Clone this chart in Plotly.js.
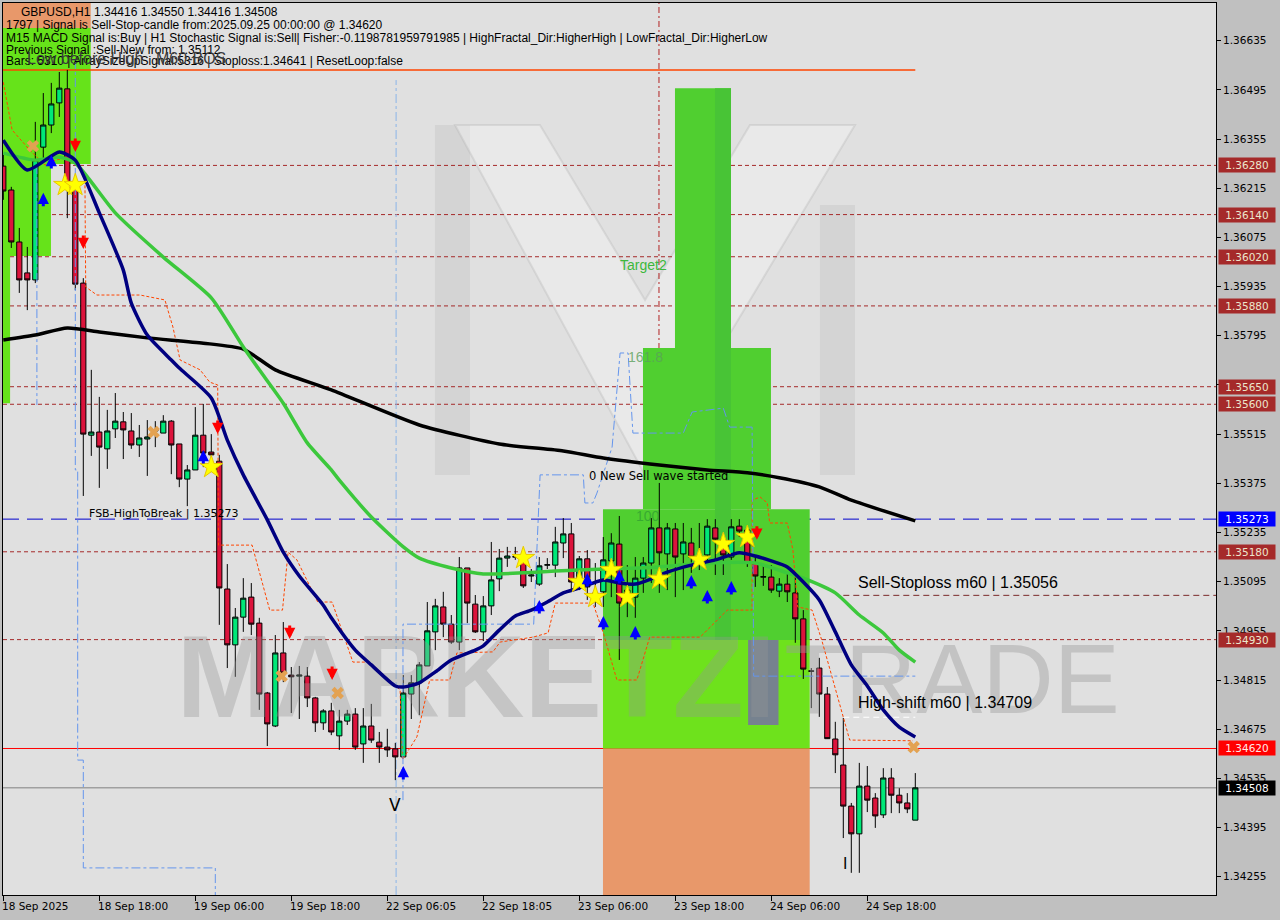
<!DOCTYPE html>
<html>
<head>
<meta charset="utf-8">
<script src="https://cdn.plot.ly/plotly-3.0.1.min.js"></script>
<style>
html,body{margin:0;padding:0;background:#c0c0c0;}
#chart{width:1280px;height:920px;}
</style>
</head>
<body>
<div id="chart"></div>
<script>
// ---------------- DATA ----------------
const openP = [1.36278,1.36210,1.36062,1.35974,1.35954,1.36332,1.36395,1.36458,1.36498,1.36210,
1.35945,1.35512,1.35521,1.35473,1.35530,1.35550,1.35524,1.35484,1.35501,1.35524,
1.35518,1.35552,1.35487,1.35387,1.35413,1.35512,1.35464,1.35438,1.35074,1.34915,
1.34994,1.35051,1.34977,1.34778,1.34684,1.34892,1.34829,1.34826,1.34826,1.34764,
1.34693,1.34727,1.34656,1.34698,1.34718,1.34633,1.34684,1.34638,1.34624,1.34619,
1.34596,1.34775,1.34807,1.34855,1.34952,1.35023,1.34974,1.34923,1.35134,1.35031,
1.34952,1.35026,1.35103,1.35162,1.35165,1.35151,1.35111,1.35088,1.35142,1.35142,
1.35205,1.35231,1.35091,1.35160,1.35063,1.35066,1.35154,1.35202,1.35048,1.35051,
1.35105,1.35148,1.35248,1.35174,1.35245,1.35174,1.35205,1.35151,1.35171,1.35248,
1.35214,1.35165,1.35253,1.35242,1.35148,1.35108,1.35108,1.35068,1.35088,1.35063,
1.34989,1.34841,1.34849,1.34775,1.34647,1.34573,1.34456,1.34377,1.34513,1.34479,
1.34431,1.34536,1.34487,1.34465,1.34416];
const highP = [1.36310,1.36219,1.36102,1.36048,1.36404,1.36486,1.36515,1.36546,1.36552,1.36224,
1.35959,1.35698,1.35621,1.35584,1.35632,1.35578,1.35575,1.35541,1.35555,1.35552,
1.35569,1.35555,1.35487,1.35427,1.35592,1.35601,1.35515,1.35456,1.35145,1.35020,
1.35105,1.35091,1.34992,1.34781,1.34943,1.34980,1.34852,1.34855,1.34852,1.34767,
1.34732,1.34750,1.34730,1.34730,1.34735,1.34735,1.34747,1.34667,1.34676,1.34636,
1.34829,1.34829,1.34866,1.35037,1.35046,1.35066,1.35000,1.35165,1.35134,1.35057,
1.35054,1.35208,1.35188,1.35194,1.35194,1.35177,1.35131,1.35165,1.35162,1.35251,
1.35276,1.35262,1.35168,1.35185,1.35148,1.35222,1.35233,1.35282,1.35142,1.35165,
1.35165,1.35276,1.35376,1.35262,1.35262,1.35262,1.35248,1.35262,1.35273,1.35273,
1.35222,1.35273,1.35273,1.35248,1.35165,1.35142,1.35142,1.35105,1.35122,1.35122,
1.35014,1.34849,1.34878,1.34795,1.34696,1.34707,1.34465,1.34579,1.34570,1.34493,
1.34564,1.34564,1.34507,1.34493,1.34550];
const lowP = [1.36182,1.36045,1.35917,1.35868,1.35945,1.36295,1.36372,1.36418,1.36130,1.35925,
1.35339,1.35453,1.35362,1.35416,1.35504,1.35444,1.35473,1.35450,1.35396,1.35478,
1.35518,1.35401,1.35364,1.35310,1.35413,1.35421,1.35407,1.34972,1.34849,1.34824,
1.34952,1.34943,1.34730,1.34627,1.34681,1.34809,1.34721,1.34704,1.34738,1.34667,
1.34673,1.34658,1.34616,1.34687,1.34616,1.34579,1.34636,1.34579,1.34596,1.34530,
1.34596,1.34704,1.34715,1.34855,1.34900,1.34937,1.34918,1.34900,1.34977,1.34949,
1.34926,1.35000,1.35068,1.35137,1.35157,1.35077,1.35094,1.35083,1.35131,1.35108,
1.35162,1.35071,1.35071,1.35043,1.35023,1.35023,1.35051,1.34872,1.34994,1.34992,
1.35063,1.35091,1.35063,1.35071,1.35051,1.35071,1.35120,1.35128,1.35148,1.35114,
1.35114,1.35157,1.35222,1.35137,1.35080,1.35083,1.35063,1.35051,1.35037,1.34921,
1.34818,1.34735,1.34710,1.34647,1.34550,1.34365,1.34266,1.34266,1.34439,1.34394,
1.34422,1.34436,1.34436,1.34436,1.34416];
const closeP = [1.36207,1.36062,1.35954,1.35954,1.36295,1.36395,1.36455,1.36500,1.36224,1.35942,
1.35515,1.35521,1.35478,1.35524,1.35552,1.35527,1.35484,1.35504,1.35507,1.35527,
1.35552,1.35484,1.35387,1.35413,1.35512,1.35461,1.35456,1.35077,1.34915,1.34994,
1.35048,1.34974,1.34775,1.34690,1.34892,1.34835,1.34824,1.34829,1.34764,1.34693,
1.34727,1.34667,1.34698,1.34718,1.34624,1.34684,1.34644,1.34624,1.34616,1.34596,
1.34778,1.34807,1.34858,1.34955,1.35026,1.34974,1.34923,1.35134,1.35034,1.34952,
1.35026,1.35100,1.35162,1.35168,1.35166,1.35083,1.35114,1.35140,1.35143,1.35208,
1.35231,1.35094,1.35160,1.35080,1.35048,1.35157,1.35205,1.35034,1.35071,1.35105,
1.35148,1.35248,1.35177,1.35248,1.35165,1.35208,1.35165,1.35165,1.35253,1.35216,
1.35171,1.35251,1.35239,1.35148,1.35111,1.35109,1.35071,1.35088,1.35066,1.34989,
1.34846,1.34840,1.34775,1.34648,1.34602,1.34456,1.34377,1.34513,1.34473,1.34428,
1.34536,1.34487,1.34465,1.34448,1.34508];

const tickBars = [0,12,24,36,48,60,72,84,96,108];
const tickLabels = ['18 Sep 2025','18 Sep 18:00','19 Sep 06:00','19 Sep 18:00','22 Sep 06:05','22 Sep 18:05','23 Sep 06:00','23 Sep 18:00','24 Sep 06:00','24 Sep 18:00'];
const priceTicks = [1.36635,1.36495,1.36355,1.36215,1.36075,1.35935,1.35795,1.35655,1.35515,1.35375,1.35235,1.35095,1.34955,1.34815,1.34675,1.34535,1.34395,1.34255];

// moving averages (read at sample bars)
const maFastBar = [0,3,7,9,12,15,16,18,21,22,26,28,30,33,35,37,40,41,44,46,49,50,52,54,56,59,60,62,64,66,68,70,72,75,77,79,81,83,86,89,92,94,96,98,100,102,104,106,108,110,112,114];
const maFast = [1.36352,1.36267,1.36318,1.36295,1.36145,1.35982,1.35888,1.35797,1.35726,1.35703,1.35618,1.35498,1.35399,1.35271,1.35179,1.35111,1.35028,1.34992,1.34900,1.34858,1.34798,1.34795,1.34807,1.34838,1.34872,1.34900,1.34912,1.34957,1.34997,1.35014,1.35037,1.35063,1.35077,1.35100,1.35091,1.35088,1.35103,1.35122,1.35142,1.35157,1.35177,1.35168,1.35154,1.35137,1.35094,1.35043,1.34952,1.34858,1.34798,1.34730,1.34681,1.34653];
const maMidBar = [0,4,7,9,14,20,26,30,32,35,38,41,42,46,50,52,56,60,65,69,72,82,88,94,98,100,104,107,110,112,114];
const maMid = [1.36315,1.36295,1.36304,1.36287,1.36145,1.36019,1.35903,1.35763,1.35698,1.35603,1.35490,1.35413,1.35384,1.35279,1.35194,1.35162,1.35134,1.35117,1.35120,1.35125,1.35128,1.35137,1.35148,1.35148,1.35120,1.35105,1.35063,1.35000,1.34949,1.34900,1.34866];
const maSlowBar = [0,4,8,12,18,25,30,34,41,52,62,70,75,82,88,93,97,102,106,114];
const maSlow = [1.35783,1.35797,1.35817,1.35806,1.35789,1.35774,1.35757,1.35698,1.35641,1.35541,1.35487,1.35467,1.35447,1.35427,1.35413,1.35405,1.35391,1.35365,1.35327,1.35268];

// stepped trailing line (orange dashed)
const trailBar = [0,1.1,3.3,5.2,6.5,7.7,9.2,10.2,10.3,11.7,17.1,20.2,21.2,22.1,24.6,25.8,26.8,26.9,31.1,32.3,33.3,34.9,35.6,36.7,39.3,41.1,43.7,45.8,48.7,49.6,49.9,51.7,53.3,55.8,56.7,61.2,62.1,66.2,68.1,69,73.7,75,76.7,79.2,80.8,87.1,90.5,93.6,93.6,94.6,95.5,95.8,98,98.7,99.3,101.1,102.3,105,105.8,113.7];
const trailPrice = [1.36517,1.36381,1.36324,1.36281,1.36295,1.36301,1.36281,1.36253,1.35934,1.35911,1.35911,1.35897,1.35820,1.35726,1.35698,1.35663,1.35655,1.35199,1.35199,1.35100,1.35014,1.35014,1.35179,1.35157,1.35037,1.35037,1.34866,1.34866,1.34807,1.34787,1.34588,1.34653,1.34815,1.34815,1.34892,1.34895,1.34923,1.34937,1.34949,1.35034,1.35034,1.34949,1.34815,1.34815,1.34937,1.34937,1.35014,1.35014,1.35327,1.35336,1.35319,1.35262,1.35262,1.35185,1.35023,1.35014,1.34929,1.34710,1.34644,1.34642];

// stepped blue dash-dot lines
const blueABar = [4.2,4.2];
const blueAPrice = [1.36281,1.35598];
const blueBBar = [9,9,9.3,9.3,10,10,26.5,26.5];
const blueBPrice = [1.36580,1.35413,1.35413,1.34587,1.34587,1.34280,1.34280,1.34189];
const blueCBar = [49.96,49.96,66.3,67.1,72.5,72.7,73.7,74.2,76.1,77.1,78.1,78.7,85,86.1,90,90.8,93.6,93.8,114];
const blueCPrice = [1.34473,1.34974,1.34974,1.35399,1.35399,1.35319,1.35319,1.35347,1.35478,1.35746,1.35746,1.35518,1.35518,1.35578,1.35589,1.35535,1.35535,1.34826,1.34826];

// signal markers
const starBar = [7.7,9,26,65,72,74,76,78,82,87,90,93];
const starPrice = [1.36224,1.36224,1.35421,1.35162,1.35094,1.35051,1.35128,1.35051,1.35103,1.35157,1.35202,1.35222];
const upBar = [5,6,25,50,67,73,75,77,79,86,88,91];
const upPrice = [1.36182,1.36290,1.35450,1.34550,1.35023,1.35100,1.34977,1.35108,1.34949,1.35094,1.35051,1.35077];
const downBar = [9,10,26.8,35.8,41.1,94.2];
const downPrice = [1.36338,1.36062,1.35535,1.34952,1.34835,1.35234];
const crossBar = [3.7,18.8,34.8,41.8,113.8];
const crossPrice = [1.36335,1.35521,1.34826,1.34778,1.34624];

// levels
const brownLevels = [1.36280,1.36140,1.36020,1.35880,1.35650,1.35600,1.35180,1.34930];
const fsbLevel = 1.35273;
const signalLevel = 1.34620;
const lastPrice = 1.34508;
const stopLevel = 1.35056;
const highShift = 1.34709;
const topLine = 1.36552;

// zones
const zoneLeft = {x1a:10.93, x1b:5.96, x1c:0.85, yTop:1.36671, y1:1.36284, y2:1.36022, y3:1.35603};
const zoneMain = {x0:74.96, x1:100.8, t2x0:79.96, t2x1:95.96, t3x0:83.96, t3x1:90.96,
  base:1.34620, lime:1.34929, top1:1.35301, top2:1.35760, top3:1.36500};

// ---------------- BUILD ----------------
const barIdx = openP.map((_, i) => i);
const YMIN = 1.342029, YMAX = 1.367424;

const traces = [];
// watermark (behind candles)
traces.push({type:'scatter', mode:'text', x:[59.1], y:[1.34792], text:['MARKETZI'],
  textfont:{family:'Liberation Sans', size:116, color:'rgba(150,150,150,0.36)', weight:700},
  textposition:'middle center', hoverinfo:'skip', cliponaxis:false});
traces.push({type:'scatter', mode:'text', x:[118.6], y:[1.34792], text:['TRADE'],
  textfont:{family:'Liberation Sans Narrow, Liberation Sans', size:99, color:'rgba(155,155,155,0.42)'},
  textposition:'middle center', hoverinfo:'skip', cliponaxis:false});

traces.push({type:'candlestick', x:barIdx, open:openP, high:highP, low:lowP, close:closeP,
  increasing:{line:{color:'#000000', width:1}, fillcolor:'#00e878'},
  decreasing:{line:{color:'#000000', width:1}, fillcolor:'#dc143c'},
  whiskerwidth:0, hoverinfo:'skip'});

traces.push({type:'scatter', mode:'lines', x:trailBar, y:trailPrice, line:{color:'#ff4500', width:1, dash:'3px,2px'}, hoverinfo:'skip'});
traces.push({type:'scatter', mode:'lines', x:blueABar, y:blueAPrice, line:{color:'#6495ed', width:1, dash:'dashdot'}, hoverinfo:'skip'});
traces.push({type:'scatter', mode:'lines', x:blueBBar, y:blueBPrice, line:{color:'#6495ed', width:1, dash:'dashdot'}, hoverinfo:'skip'});
traces.push({type:'scatter', mode:'lines', x:blueCBar, y:blueCPrice, line:{color:'#6495ed', width:1, dash:'dashdot'}, hoverinfo:'skip'});

traces.push({type:'scatter', mode:'lines', x:maSlowBar, y:maSlow, line:{color:'#000000', width:3.5, shape:'spline', smoothing:0.6}, hoverinfo:'skip'});
traces.push({type:'scatter', mode:'lines', x:maMidBar, y:maMid, line:{color:'#3cc83c', width:3.5, shape:'spline', smoothing:0.6}, hoverinfo:'skip'});
traces.push({type:'scatter', mode:'lines', x:maFastBar, y:maFast, line:{color:'#000080', width:3.5, shape:'spline', smoothing:0.6}, hoverinfo:'skip'});

traces.push({type:'scatter', mode:'markers', x:crossBar, y:crossPrice, marker:{symbol:'x', size:11, color:'#e3a252', line:{width:0}}, hoverinfo:'skip'});
traces.push({type:'scatter', mode:'markers', x:starBar, y:starPrice, marker:{symbol:'star', size:17, color:'#ffff00', line:{color:'#e8c800', width:1}}, hoverinfo:'skip'});

// shapes
const shapes = [];
// background logo (paper coords, decorative)
shapes.push({type:'rect', xref:'paper', yref:'paper', x0:0.3561, x1:0.3850, y0:0.4709, y1:0.8632, fillcolor:'rgba(170,170,170,0.22)', line:{width:0}, layer:'below'});
shapes.push({type:'rect', xref:'paper', yref:'paper', x0:0.6735, x1:0.7024, y0:0.4709, y1:0.7735, fillcolor:'rgba(170,170,170,0.22)', line:{width:0}, layer:'below'});
shapes.push({type:'path', xref:'paper', yref:'paper', path:'M0.3726,0.8632 L0.4427,0.8632 L0.5293,0.6670 L0.6158,0.8632 L0.7024,0.8632 L0.5293,0.4709 Z', fillcolor:'rgba(245,245,245,0.45)', line:{color:'rgba(175,175,175,0.3)', width:2}, layer:'below'});

function rect(x0,x1,y0,y1,color){ shapes.push({type:'rect', xref:'x', yref:'y', x0, x1, y0, y1, fillcolor:color, line:{width:0}, layer:'below'}); }
// left zone
rect(-1, zoneLeft.x1a, zoneLeft.yTop, 1.3690, '#e8986a');
rect(-1, zoneLeft.x1a, zoneLeft.y1, zoneLeft.yTop, '#66e31a');
rect(-1, zoneLeft.x1b, zoneLeft.y2, zoneLeft.y1, '#66e31a');
rect(-1, zoneLeft.x1c, zoneLeft.y3, zoneLeft.y2, '#66e31a');
// main zone
rect(zoneMain.x0, zoneMain.x1, 1.3400, zoneMain.base, '#e8986a');
rect(zoneMain.x0, zoneMain.x1, zoneMain.base, zoneMain.lime, '#6ee21c');
rect(zoneMain.x0, zoneMain.x1, zoneMain.lime, zoneMain.top1, '#50cf30');
rect(zoneMain.t2x0, zoneMain.t2x1, zoneMain.top1, zoneMain.top2, '#50cf30');
rect(zoneMain.t3x0, zoneMain.t3x1, zoneMain.top2, zoneMain.top3, '#50cf30');
rect(88.96, zoneMain.t3x1, zoneMain.lime, zoneMain.top3, '#48c436');
rect(93.1, 96.9, 1.34687, zoneMain.lime, '#76828f');

function hline(y, color, dash, width, x0, x1){
  shapes.push({type:'line', xref: x0===undefined?'paper':'x', yref:'y', x0: x0===undefined?0:x0, x1: x1===undefined?1:x1, y0:y, y1:y, line:{color, width:width||1, dash}, layer:'below'});
}
brownLevels.forEach(v => hline(v, '#a52a2a', '4px,3px', 1));
hline(fsbLevel, '#0000cd', '16px,8px', 1);
hline(signalLevel, '#ff0000', 'solid', 1);
hline(lastPrice, '#808080', 'solid', 1);
hline(topLine, '#ff4500', 'solid', 1.5, -1, 114);
hline(stopLevel, '#7a2a2a', '6px,4px', 1, 105, 152);
hline(highShift, '#ffffff', '6px,4px', 1.2, 105, 114);
// vertical lines
shapes.push({type:'line', xref:'x', yref:'paper', x0:81.96, x1:81.96, y0:0, y1:1, line:{color:'#b22222', width:1, dash:'6px,3px,2px,3px'}, layer:'below'});
shapes.push({type:'line', xref:'x', yref:'y', x0:49.1, x1:49.1, y0:YMIN, y1:1.36523, line:{color:'#8ab4e8', width:1, dash:'dashdot'}, layer:'below'});

// annotations
const ann = [];
// signal arrows drawn as annotation arrows at the data points
upBar.forEach((b, i) => ann.push({xref:'x', yref:'y', x:b, y:upPrice[i], text:'', showarrow:true, ax:0, ay:15, yshift:7,
  arrowcolor:'#0000ff', arrowwidth:3, arrowhead:2, arrowsize:0.75, standoff:0, startstandoff:0}));
downBar.forEach((b, i) => ann.push({xref:'x', yref:'y', x:b, y:downPrice[i], text:'', showarrow:true, ax:0, ay:-15, yshift:-7,
  arrowcolor:'#ff0000', arrowwidth:3, arrowhead:2, arrowsize:0.75, standoff:0, startstandoff:0}));

function px(text, x, y, font, extra){
  ann.push(Object.assign({xref:'paper', yref:'paper', x:0, y:1, xanchor:'left', yanchor:'middle', xshift:x-3, yshift:-(y-3), text, showarrow:false, font, borderpad:0}, extra||{}));
}
const hdr = {family:'Liberation Sans', size:12, color:'#000000'};
px('GBPUSD,H1', 20, 12, hdr);
px('1.34416 1.34550 1.34416 1.34508', 93, 12, hdr);
px('1797 | Signal is Sell-Stop-candle from:2025.09.25 00:00:00 @ 1.34620', 5, 25, hdr);
px('M15 MACD Signal is:Buy | H1 Stochastic Signal is:Sell| Fisher:-0.1198781959791985 | HighFractal_Dir:HigherHigh | LowFractal_Dir:HigherLow', 5, 38, hdr);
px('Previous Signal :Sell-New from: 1.35112', 5, 50, hdr);
px('Bars: 5310 | ArraySizeUpSignal:5316 | Stoploss:1.34641 | ResetLoop:false', 5, 61, hdr);
px('Low before High', 26, 58, {family:'Liberation Sans', size:16, color:'#3a3a3a'});
px('M60-BOS', 155, 58, {family:'Liberation Sans', size:16, color:'#3a3a3a'});

function dt(text, bar, price, font, anchor){
  ann.push({xref:'x', yref:'y', x:bar, y:price, text, showarrow:false, font, xanchor:anchor||'left', yanchor:'middle', borderpad:0});
}
dt('0 New Sell wave started', 73.1, 1.35396, {family:'DejaVu Sans', size:11.5, color:'#000'});
dt('FSB-HighToBreak | 1.35273', 10.6, 1.35290, {family:'DejaVu Sans', size:11, color:'#000'});
dt('Sell-Stoploss m60 | 1.35056', 106.7, 1.35094, {family:'Liberation Sans', size:16, color:'#000'});
dt('High-shift m60 | 1.34709', 106.7, 1.34750, {family:'Liberation Sans', size:16, color:'#000'});
dt('Target2', 77.0, 1.35996, {family:'Liberation Sans', size:14, color:'#3cb83c'});
dt('161.8', 78.0, 1.35734, {family:'Liberation Sans', size:14, color:'rgba(90,160,90,0.8)'});
dt('100', 78.9, 1.35282, {family:'Liberation Sans', size:14, color:'rgba(50,160,50,0.8)'});
dt('V', 49.0, 1.34459, {family:'DejaVu Sans', size:17, color:'#000'}, 'center');
dt('I', 105.2, 1.34292, {family:'DejaVu Sans', size:15, color:'#000'}, 'center');

// time labels (left aligned at tick)
tickBars.forEach((b, i) => {
  ann.push({xref:'x', yref:'paper', x:b, y:0, xanchor:'left', yanchor:'top', yshift:-4, xshift:-2, text:tickLabels[i], showarrow:false,
    font:{family:'DejaVu Sans', size:10.5, color:'#000'}, borderpad:0});
});
// price boxes
function pbox(v, bg, fg){
  ann.push({xref:'paper', yref:'y', x:1, y:v, xanchor:'left', yanchor:'middle', xshift:2, text:v.toFixed(5), showarrow:false,
    font:{family:'DejaVu Sans', size:10.5, color:fg}, bgcolor:bg, width:54, height:12, borderpad:1, align:'center'});
}
brownLevels.forEach(v => pbox(v, '#a52a2a', '#ece6cc'));
pbox(fsbLevel, '#0000ff', '#ffffff');
pbox(signalLevel, '#ff0000', '#ffe8e8');
pbox(lastPrice, '#000000', '#ffffff');

const layout = {
  width:1280, height:920,
  margin:{l:3, r:64, t:3, b:25},
  paper_bgcolor:'#c0c0c0', plot_bgcolor:'#e0e0e0',
  showlegend:false,
  boxgap:0.35, boxgroupgap:0,
  xaxis:{range:[-0.0375, 151.5875], showgrid:false, zeroline:false, tickvals:tickBars, showticklabels:false,
    ticks:'outside', ticklen:5, tickcolor:'#000', showline:true, mirror:true, linecolor:'#000', linewidth:1,
    rangeslider:{visible:false}, fixedrange:true},
  yaxis:{range:[YMIN, YMAX], side:'right', showgrid:false, zeroline:false, tickvals:priceTicks, ticktext:priceTicks.map(v=>v.toFixed(5)),
    ticks:'outside', ticklen:4, tickcolor:'#000', showline:true, mirror:true, linecolor:'#000', linewidth:1,
    tickfont:{family:'DejaVu Sans', size:10.5, color:'#000'}, fixedrange:true},
  shapes, annotations:ann
};
Plotly.newPlot('chart', traces, layout, {staticPlot:true, displayModeBar:false});
</script>
</body>
</html>
